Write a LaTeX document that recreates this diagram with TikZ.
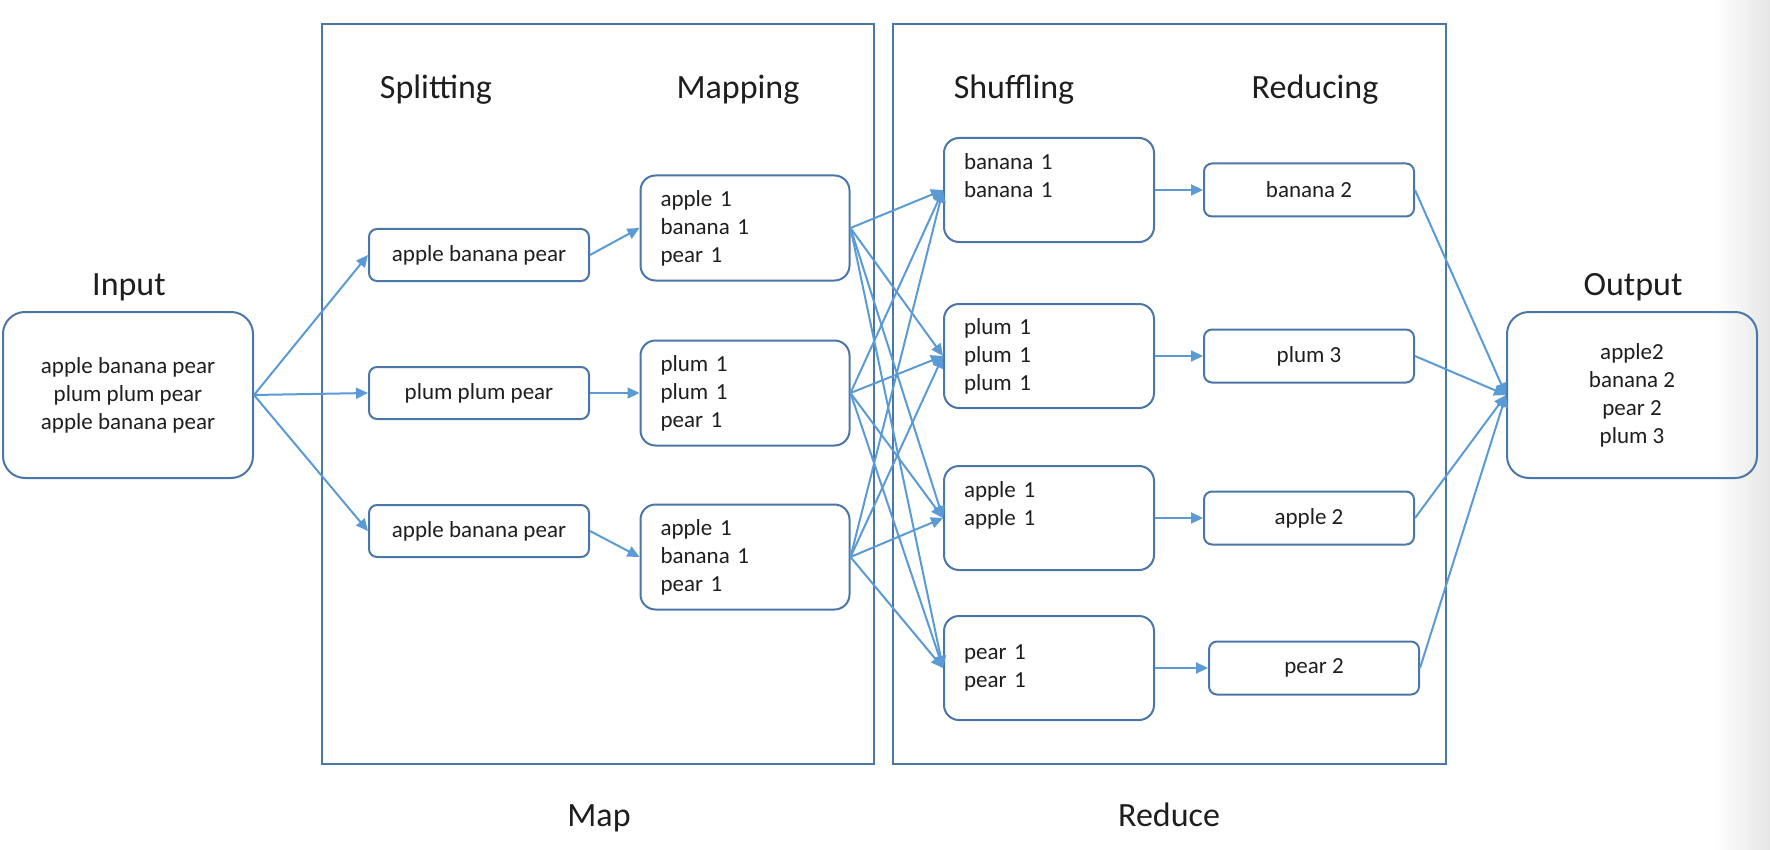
\documentclass[tikz,border=0pt]{standalone}
\usepackage{fontspec}
\setmainfont{Carlito}
\usetikzlibrary{arrows.meta}

\definecolor{boxline}{HTML}{4A76A8}
\definecolor{flowline}{HTML}{5B9BD5}
\definecolor{txt}{HTML}{1E1E1E}

\tikzset{
  boxtext/.style={font=\fontsize{11.5}{14}\selectfont, text=txt},
  headtext/.style={font=\fontsize{17}{20}\selectfont, text=txt, anchor=base},
  frame/.style={draw=boxline, line width=1.4pt},
  bigbox/.style={draw=boxline, line width=1pt, rounded corners=11pt, minimum width=125pt, minimum height=83pt, align=center, boxtext},
  splitbox/.style={draw=boxline, line width=1pt, rounded corners=4pt, minimum width=110pt, minimum height=26pt, boxtext},
  redbox/.style={draw=boxline, line width=1pt, rounded corners=4pt, minimum width=105pt, minimum height=26.5pt, boxtext},
  mapbox/.style={draw=boxline, line width=1pt, rounded corners=7.5pt, minimum height=52.5pt, text width=84.5pt, inner xsep=10pt, align=left, boxtext},
  shufbox/.style={draw=boxline, line width=1pt, rounded corners=7.5pt, minimum height=52pt, text width=85pt, inner xsep=10pt, align=left, boxtext},
}

\begin{document}
\begin{tikzpicture}[x=0.5pt,y=-0.5pt]

      \useasboundingbox (0,0) rectangle (1770,850);
      \shade[left color=white, right color=black!10] (1715,0) rectangle (1770,850);

      \draw[frame] (322,24) rectangle (874,764);
      \draw[frame] (893,24) rectangle (1446,764);

      \node[headtext] (tin)  at (129,295)  {Input};
      \node[headtext] (tout) at (1633,295) {Output};
      \node[headtext] (tspl) at (436,99)   {Splitting};
      \node[headtext] (tmap) at (738,99)   {Mapping};
      \node[headtext] (tshu) at (1014,99)  {Shuffling};
      \node[headtext] (tred) at (1315,99)  {Reducing};
      \node[headtext] (map)  at (599,826)  {Map};
      \node[headtext] (red)  at (1169,826) {Reduce};

      \node[bigbox] (in)  at (128,395)  {apple banana pear\\plum plum pear\\apple banana pear};
      \node[bigbox] (out) at (1632,395) {apple2\\banana 2\\pear 2\\plum 3};

      \node[splitbox] (s1) at (479,255) {apple banana pear};
      \node[splitbox] (s2) at (479,393) {plum plum pear};
      \node[splitbox] (s3) at (479,531) {apple banana pear};

      \node[mapbox] (m1) at (745,228) {apple 1\\banana 1\\pear 1};
      \node[mapbox] (m2) at (745,393) {plum 1\\plum 1\\pear 1};
      \node[mapbox] (m3) at (745,557) {apple 1\\banana 1\\pear 1};

      \node[shufbox] (h1) at (1049,190) {banana 1\\banana 1\\\mbox{}};
      \node[shufbox] (h2) at (1049,356) {plum 1\\plum 1\\plum 1};
      \node[shufbox] (h3) at (1049,518) {apple 1\\apple 1\\\mbox{}};
      \node[shufbox] (h4) at (1049,668) {pear 1\\pear 1};

      \node[redbox] (r1) at (1309,190) {banana 2};
      \node[redbox] (r2) at (1309,356) {plum 3};
      \node[redbox] (r3) at (1309,518) {apple 2};
      \node[redbox] (r4) at (1314,668) {pear 2};

      \begin{scope}[every edge/.style={draw=flowline, line width=1pt, -{Triangle[length=6pt,width=5.5pt]}}]
        \path (in.east) edge (s1.west);
        \path (in.east) edge (s2.west);
        \path (in.east) edge (s3.west);
        \path (s1.east) edge (m1.west);
        \path (s2.east) edge (m2.west);
        \path (s3.east) edge (m3.west);
        \path (m1.east) edge (h1.west);
        \path (m1.east) edge (h2.west);
        \path (m1.east) edge (h3.west);
        \path (m1.east) edge (h4.west);
        \path (m2.east) edge (h1.west);
        \path (m2.east) edge (h2.west);
        \path (m2.east) edge (h3.west);
        \path (m2.east) edge (h4.west);
        \path (m3.east) edge (h1.west);
        \path (m3.east) edge (h2.west);
        \path (m3.east) edge (h3.west);
        \path (m3.east) edge (h4.west);
        \path (h1) edge (r1);
        \path (h2) edge (r2);
        \path (h3) edge (r3);
        \path (h4) edge (r4);
        \path (r1.east) edge (out.west);
        \path (r2.east) edge (out.west);
        \path (r3.east) edge (out.west);
        \path (r4.east) edge (out.west);
      \end{scope}

    \end{tikzpicture}
\end{document}
